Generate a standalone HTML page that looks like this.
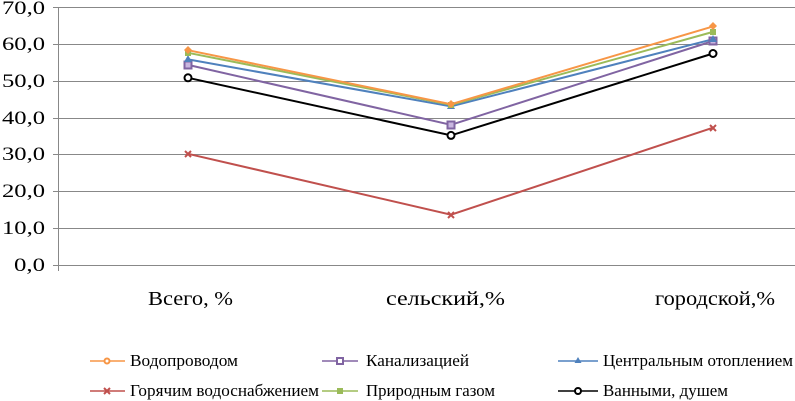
<!DOCTYPE html>
<html><head><meta charset="utf-8"><style>body{margin:0;background:#fff}svg{display:block}</style></head>
<body>
<svg width="795" height="401" xmlns="http://www.w3.org/2000/svg" font-family="Liberation Serif, serif">
<g stroke="#888" stroke-width="1">
<line x1="53" y1="7.5" x2="795" y2="7.5"/>
<line x1="53" y1="44.5" x2="795" y2="44.5"/>
<line x1="53" y1="81.5" x2="795" y2="81.5"/>
<line x1="53" y1="118.5" x2="795" y2="118.5"/>
<line x1="53" y1="154.5" x2="795" y2="154.5"/>
<line x1="53" y1="191.5" x2="795" y2="191.5"/>
<line x1="53" y1="228.5" x2="795" y2="228.5"/>
<line x1="53" y1="265.5" x2="795" y2="265.5"/>
<line x1="58.5" y1="7" x2="58.5" y2="271"/>
</g>
<g font-size="19" fill="#000">
<text x="2" y="14" textLength="43" lengthAdjust="spacingAndGlyphs">70,0</text>
<text x="2" y="50" textLength="43" lengthAdjust="spacingAndGlyphs">60,0</text>
<text x="2" y="87" textLength="43" lengthAdjust="spacingAndGlyphs">50,0</text>
<text x="2" y="124" textLength="43" lengthAdjust="spacingAndGlyphs">40,0</text>
<text x="2" y="160" textLength="43" lengthAdjust="spacingAndGlyphs">30,0</text>
<text x="2" y="197" textLength="43" lengthAdjust="spacingAndGlyphs">20,0</text>
<text x="2" y="234" textLength="43" lengthAdjust="spacingAndGlyphs">10,0</text>
<text x="14" y="271" textLength="31" lengthAdjust="spacingAndGlyphs">0,0</text>
</g>
<g font-size="20" fill="#000">
<text x="148" y="305" textLength="85" lengthAdjust="spacingAndGlyphs">Всего, %</text>
<text x="386" y="305" textLength="119" lengthAdjust="spacingAndGlyphs">сельский,%</text>
<text x="655" y="305" textLength="120" lengthAdjust="spacingAndGlyphs">городской,%</text>
</g>
<g fill="none" stroke-width="2">
<polyline points="188,77.8 451,135.4 713,53.5" stroke="#000"/>
<polyline points="188,153.8 451,214.7 713,127.7" stroke="#c0504d"/>
<polyline points="188,64.9 451,124.8 713,41" stroke="#8064a2"/>
<polyline points="188,59.4 451,106.4 713,39.2" stroke="#4f81bd"/>
<polyline points="188,52.8 451,104.9 713,31.9" stroke="#9bbb59"/>
<polyline points="188,50.2 451,104.2 713,26.4" stroke="#f79646"/>
</g>
<g>
<g fill="#fff" stroke="#000" stroke-width="2"><circle cx="188" cy="77.8" r="3.5"/><circle cx="451" cy="135.4" r="3.5"/><circle cx="713" cy="53.5" r="3.5"/></g>
<g stroke="#c0504d" stroke-width="2"><path d="M185 151l6 6M191 151l-6 6M448 212l6 6M454 212l-6 6M710 125l6 6M716 125l-6 6"/></g>
<g fill="#c9b6e0" stroke="#8064a2" stroke-width="2"><rect x="184.5" y="61.5" width="7" height="7"/><rect x="447.5" y="121.5" width="7" height="7"/><rect x="709.5" y="37.5" width="7" height="7"/></g>
<g fill="#4f81bd"><path d="M188 55l4 7h-8zM451 102l4 7h-8zM713 35l4 7h-8z"/></g>
<g fill="#9bbb59"><rect x="185" y="50" width="6" height="6"/><rect x="448" y="102" width="6" height="6"/><rect x="710" y="29" width="6" height="6"/></g>
<g fill="#f79646"><path d="M188 46l4 4-4 4-4-4zM451 100l4 4-4 4-4-4zM713 22l4 4-4 4-4-4z"/></g>
</g>
<g font-size="17" fill="#000">
<line x1="90" y1="361" x2="125" y2="361" stroke="#f79646" stroke-width="1.5"/><circle cx="107" cy="361" r="2.5" fill="#fff" stroke="#f79646" stroke-width="2"/>
<text x="130" y="366" textLength="108" lengthAdjust="spacingAndGlyphs">Водопроводом</text>
<line x1="322" y1="361" x2="358" y2="361" stroke="#8064a2" stroke-width="1.5"/><rect x="337" y="358" width="6" height="6" fill="#fff" stroke="#8064a2" stroke-width="2"/>
<text x="366" y="366" textLength="103" lengthAdjust="spacingAndGlyphs">Канализацией</text>
<line x1="558" y1="361" x2="598" y2="361" stroke="#4f81bd" stroke-width="1.5"/><path d="M578 357l3.5 6h-7z" fill="#4f81bd"/>
<text x="603" y="366" textLength="190" lengthAdjust="spacingAndGlyphs">Центральным отоплением</text>
<line x1="90" y1="391" x2="125" y2="391" stroke="#c0504d" stroke-width="1.5"/><path d="M104 388l6 6M110 388l-6 6" stroke="#c0504d" stroke-width="2"/>
<text x="130" y="396" textLength="189" lengthAdjust="spacingAndGlyphs">Горячим водоснабжением</text>
<line x1="322" y1="391" x2="358" y2="391" stroke="#9bbb59" stroke-width="1.5"/><rect x="337" y="388" width="6" height="6" fill="#9bbb59"/>
<text x="366" y="396" textLength="129" lengthAdjust="spacingAndGlyphs">Природным газом</text>
<line x1="558" y1="391" x2="598" y2="391" stroke="#000" stroke-width="1.5"/><circle cx="578" cy="391" r="3" fill="#fff" stroke="#000" stroke-width="2"/>
<text x="603" y="396" textLength="125" lengthAdjust="spacingAndGlyphs">Ванными, душем</text>
</g>
</svg>
</body></html>
